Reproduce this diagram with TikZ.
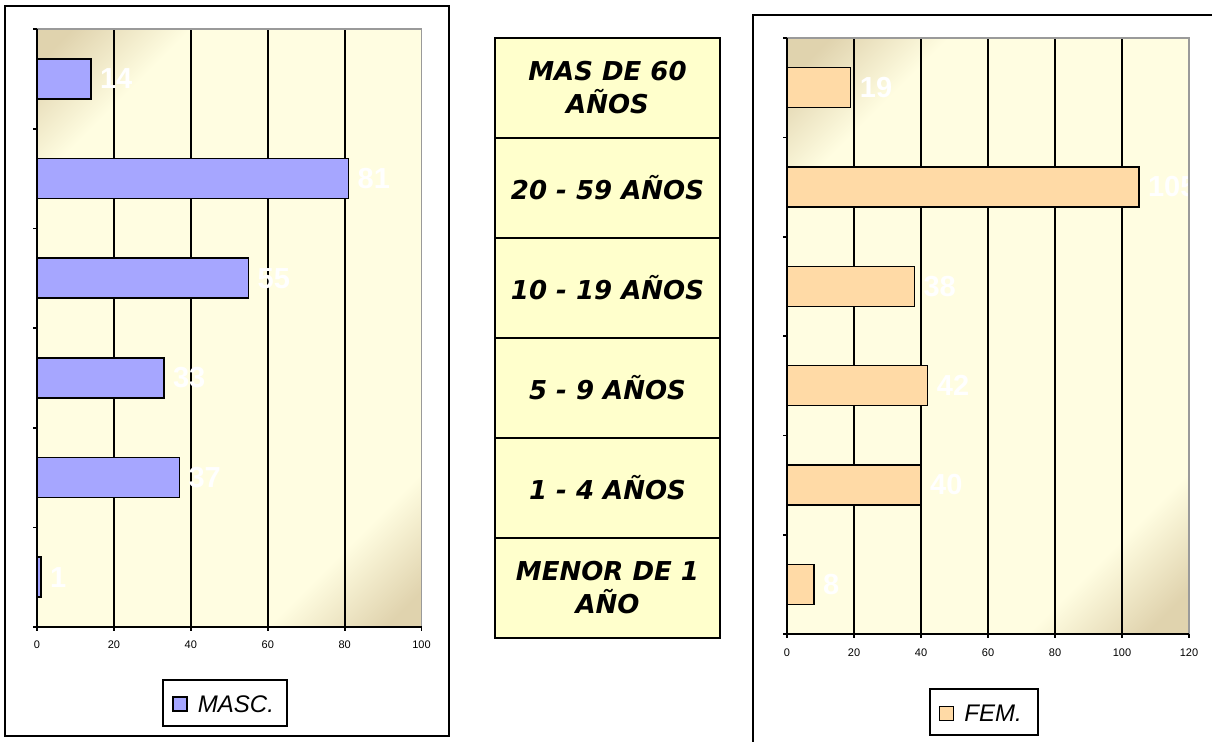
\documentclass[tikz,border=0pt]{standalone}
\usepackage{fontspec}
\setmainfont{Liberation Sans}
\newfontfamily\agefont{DejaVu Sans}
\usetikzlibrary{positioning}
\definecolor{mascblue}{HTML}{A6A6FF}
\definecolor{fempeach}{HTML}{FFDAA6}
\definecolor{cream}{HTML}{FFFDE1}
\definecolor{tanc}{HTML}{E0D3AE}
\definecolor{cellfill}{HTML}{FFFFCC}
\definecolor{edgegray}{HTML}{9A9A9A}
\pgfdeclarehorizontalshading{plotfade}{100bp}{color(0bp)=(tanc); color(23bp)=(tanc); color(30bp)=(cream); color(70bp)=(cream); color(77bp)=(tanc); color(100bp)=(tanc)}
\tikzset{
  chartframe/.style={draw=black,line width=2pt},
  plotbg/.style={shading=plotfade,shading angle=-45},
  gridl/.style={draw=black,line width=1.6pt},
  axisl/.style={draw=black,line width=1.6pt},
  bar/.style={rectangle,draw=black,line width=1.5pt,inner sep=0pt,outer sep=0pt,minimum height=40pt,anchor=west},
  vlabel/.style={inner sep=0pt,text=white,font=\bfseries\fontsize{29}{29}\selectfont},
  axlabel/.style={inner sep=0pt,font=\fontsize{11}{11}\selectfont},
  agecell/.style={rectangle,draw=black,line width=2pt,fill=cellfill,inner sep=0pt,outer sep=0pt,
    minimum width=225pt,minimum height=100pt,align=center,
    font=\agefont\bfseries\itshape\fontsize{26}{33}\selectfont},
  legendbox/.style={rectangle,draw=black,line width=1.5pt,fill=white,inner sep=0pt},
  swatch/.style={rectangle,draw=black,line width=1.5pt,inner sep=0pt,minimum size=14pt},
  legendtext/.style={inner sep=0pt,font=\itshape\fontsize{24}{24}\selectfont}
}

\begin{document}
\begin{tikzpicture}[x=1pt,y=-1pt]
\useasboundingbox[fill=white] (0,0) rectangle (1212,742);
% left chart: MASC.
\draw[chartframe,fill=white] (5,6) rectangle (449,736);
\begin{scope}
\clip (37,29) rectangle (421.5,627);
\shade[plotbg] (-71,28) rectangle (529,628);
\end{scope}
\draw[gridl] (113.9,29) -- (113.9,627) (190.8,29) -- (190.8,627)
  (267.8,29) -- (267.8,627) (344.7,29) -- (344.7,627);
\draw[draw=edgegray,line width=1.6pt] (37,29) -- (421.5,29) -- (421.5,627);
\draw[axisl] (37,29) -- (37,627) -- (421.5,627);
\draw[axisl] (33,29) -- (37,29) (33,128.7) -- (37,128.7) (33,228.3) -- (37,228.3)
  (33,328) -- (37,328) (33,427.7) -- (37,427.7) (33,527.3) -- (37,527.3) (33,627) -- (37,627);
\draw[axisl] (37,627) -- (37,631) (113.9,627) -- (113.9,631) (190.8,627) -- (190.8,631)
  (267.8,627) -- (267.8,631) (344.7,627) -- (344.7,631) (421.5,627) -- (421.5,631);
%
\node (m1) [bar,fill=mascblue,minimum width=53.8pt] at (37,78.8) {};
\node (m2) [bar,fill=mascblue,minimum width=311.5pt] at (37,178.5) {};
\node (m3) [bar,fill=mascblue,minimum width=211.5pt] at (37,278.2) {};
\node (m4) [bar,fill=mascblue,minimum width=126.9pt] at (37,377.8) {};
\node (m5) [bar,fill=mascblue,minimum width=142.3pt] at (37,477.5) {};
\node (m6) [bar,fill=mascblue,minimum width=3.8pt] at (37,577.2) {};
\node (m1v) [vlabel,right=9pt of m1] {14};
\node (m2v) [vlabel,right=9pt of m2] {81};
\node (m3v) [vlabel,right=9pt of m3] {55};
\node (m4v) [vlabel,right=9pt of m4] {33};
\node (m5v) [vlabel,right=9pt of m5] {37};
\node (m6v) [vlabel,right=9pt of m6] {1};
%
\node (mx0) [axlabel] at (37,645) {0};
\node (mx20) [axlabel] at (113.9,645) {20};
\node (mx40) [axlabel] at (190.8,645) {40};
\node (mx60) [axlabel] at (267.8,645) {60};
\node (mx80) [axlabel] at (344.7,645) {80};
\node (mx100) [axlabel] at (421.5,645) {100};
%
\node (mleg) [legendbox,minimum width=124pt,minimum height=46pt] at (225,703) {};
\node (mlegsw) [swatch,fill=mascblue] at (180,704) {};
\node (mlegtx) [legendtext,right=10pt of mlegsw] {MASC.};
% age groups
\node (c1) [agecell] at (607.5,88) {MAS DE 60\\AÑOS};
\node (c2) [agecell,below=0pt of c1] {20 - 59 AÑOS};
\node (c3) [agecell,below=0pt of c2] {10 - 19 AÑOS};
\node (c4) [agecell,below=0pt of c3] {5 - 9 AÑOS};
\node (c5) [agecell,below=0pt of c4] {1 - 4 AÑOS};
\node (c6) [agecell,below=0pt of c5] {MENOR DE 1\\AÑO};
% right chart: FEM.
\draw[chartframe] (1212,15) -- (753,15) -- (753,742);
\begin{scope}
\clip (787,38) rectangle (1189,634);
\shade[plotbg] (688,36) rectangle (1288,636);
\end{scope}
\draw[gridl] (854,38) -- (854,634) (921,38) -- (921,634) (988,38) -- (988,634)
  (1055,38) -- (1055,634) (1122,38) -- (1122,634);
%
\node (f1) [bar,fill=fempeach,minimum width=63.7pt] at (787,87.7) {};
\node (f2) [bar,fill=fempeach,minimum width=351.8pt] at (787,187) {};
\node (f3) [bar,fill=fempeach,minimum width=127.3pt] at (787,286.3) {};
\node (f4) [bar,fill=fempeach,minimum width=140.7pt] at (787,385.7) {};
\node (f5) [bar,fill=fempeach,minimum width=134pt] at (787,485) {};
\node (f6) [bar,fill=fempeach,minimum width=26.8pt] at (787,584.3) {};
\begin{scope}
\clip (787,38) rectangle (1188,634);
\node (f1v) [vlabel,right=9pt of f1] {19};
\node (f2v) [vlabel,right=9pt of f2] {105};
\node (f3v) [vlabel,right=9pt of f3] {38};
\node (f4v) [vlabel,right=9pt of f4] {42};
\node (f5v) [vlabel,right=9pt of f5] {40};
\node (f6v) [vlabel,right=9pt of f6] {8};
\end{scope}
\draw[draw=edgegray,line width=1.6pt] (787,38) -- (1189,38) -- (1189,634);
\draw[axisl] (787,38) -- (787,634) -- (1189,634);
\draw[axisl] (783,38) -- (787,38) (783,137.3) -- (787,137.3) (783,236.7) -- (787,236.7)
  (783,336) -- (787,336) (783,435.3) -- (787,435.3) (783,534.7) -- (787,534.7) (783,634) -- (787,634);
\draw[axisl] (787,634) -- (787,638) (854,634) -- (854,638) (921,634) -- (921,638) (988,634) -- (988,638)
  (1055,634) -- (1055,638) (1122,634) -- (1122,638) (1189,634) -- (1189,638);
%
\node (fx0) [axlabel] at (787,653) {0};
\node (fx20) [axlabel] at (854,653) {20};
\node (fx40) [axlabel] at (921,653) {40};
\node (fx60) [axlabel] at (988,653) {60};
\node (fx80) [axlabel] at (1055,653) {80};
\node (fx100) [axlabel] at (1122,653) {100};
\node (fx120) [axlabel] at (1189,653) {120};
%
\node (fleg) [legendbox,minimum width=108pt,minimum height=46pt] at (984,712) {};
\node (flegsw) [swatch,fill=fempeach] at (946.5,713.5) {};
\node (flegtx) [legendtext,right=10pt of flegsw] {FEM.};
\end{tikzpicture}
\end{document}
